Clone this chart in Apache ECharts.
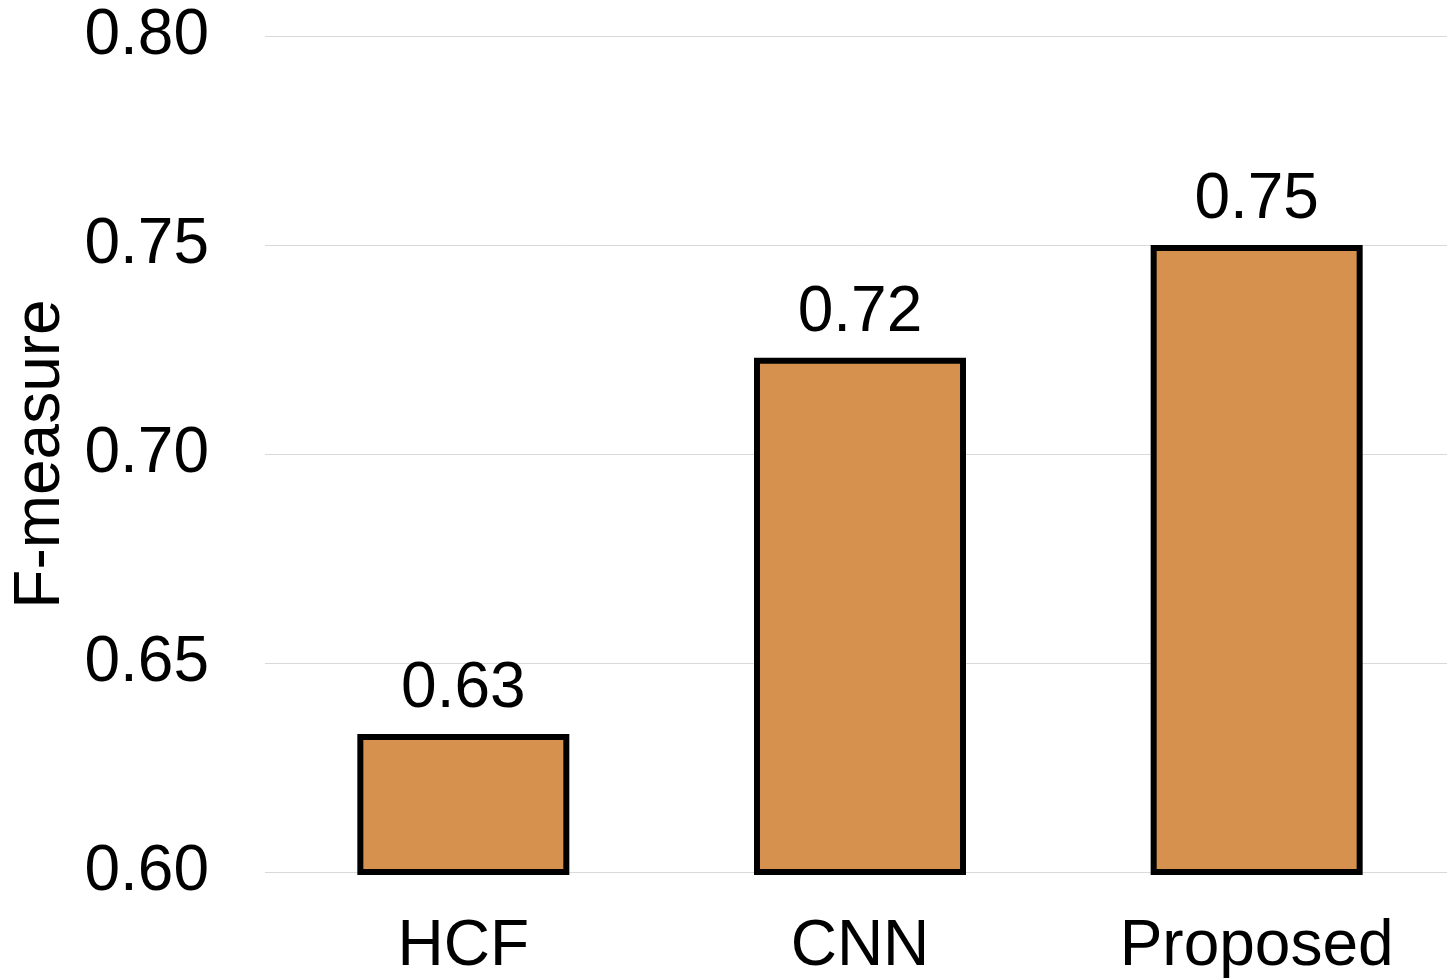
<!DOCTYPE html>
<html>
<head>
<meta charset="utf-8">
<script src="https://cdn.jsdelivr.net/npm/echarts@6/dist/echarts.min.js"></script>
<style>
  html, body { margin: 0; padding: 0; background: #ffffff; }
  #chart { width: 1447px; height: 980px; }
</style>
</head>
<body>
<div id="chart"></div>
<script>
// F-measure per method
const methods = ['HCF', 'CNN', 'Proposed'];
const fMeasure = [0.633, 0.723, 0.75];
const yTicks = [0.60, 0.65, 0.70, 0.75, 0.80];

const FONT = '"Liberation Sans", Arial, sans-serif';

const chart = echarts.init(document.getElementById('chart'));
chart.setOption({
  backgroundColor: '#ffffff',
  animation: false,
  grid: {
    left: 265, width: 1190, top: 36, height: 836,
    containLabel: false, outerBoundsMode: 'none'
  },
  xAxis: {
    type: 'category',
    data: methods,
    axisLine: { show: false },
    axisTick: { show: false },
    axisLabel: { color: '#000', fontFamily: FONT, fontSize: 64, margin: 43 }
  },
  yAxis: {
    type: 'value',
    min: yTicks[0],
    max: yTicks[yTicks.length - 1],
    interval: 0.05,
    name: 'F-measure',
    nameLocation: 'middle',
    nameGap: 181,
    nameTextStyle: { color: '#000', fontFamily: FONT, fontSize: 64 },
    axisLine: { show: false },
    axisTick: { show: false },
    axisLabel: {
      color: '#000', fontFamily: FONT, fontSize: 64, margin: 56,
      formatter: v => v.toFixed(2)
    },
    splitLine: { lineStyle: { color: '#d9d9d9', width: 1 } }
  },
  series: [{
    type: 'bar',
    data: fMeasure,
    barWidth: 212,
    itemStyle: { color: '#D5914D', borderColor: '#000', borderWidth: 6 },
    label: {
      show: true,
      position: 'top',
      distance: 13,
      color: '#000',
      fontFamily: FONT,
      fontSize: 64,
      formatter: p => p.value.toFixed(2)
    }
  }]
});
</script>
</body>
</html>
